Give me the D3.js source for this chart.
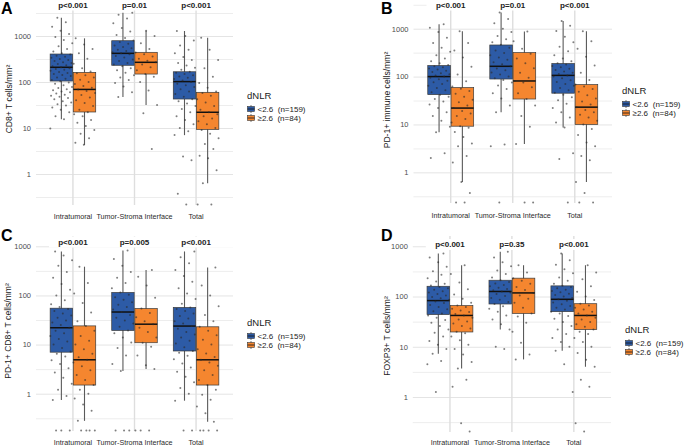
<!DOCTYPE html>
<html><head><meta charset="utf-8">
<script src="https://cdn.jsdelivr.net/npm/d3@7"></script>
<style>body{margin:0;background:#fff}svg{display:block;font-family:"Liberation Sans",Arial,sans-serif}</style>
</head><body><svg id="c" width="684" height="446"></svg>
<script>
// ---------------- DATA ----------------
const categories = ["Intratumoral", "Tumor-Stroma Interface", "Total"];
const groups = ["lo", "hi"];
const groupLabels = ["<2.6  (n=159)", "\u22652.6  (n=84)"];
const legendTitle = "dNLR";
const yTickValues = [1, 10, 100, 1000];
const yTickLabels = ["1", "10", "100", "1000"];
const yMinorValues = [0.3162, 3.162, 31.62, 316.2, 3162];
const panelLetters = ["A", "B", "C", "D"];
const yTitles = ["CD8+ T cells/mm\u00b2", "PD-1+ immune cells/mm\u00b2", "PD-1+ CD8+ T cells/mm\u00b2", "FOXP3+ T cells/mm\u00b2"];
const pValsA = ["p<0.001", "p=0.01", "p<0.001"];
const pValsB = ["p<0.001", "p=0.01", "p<0.001"];
const pValsC = ["p<0.001", "p=0.005", "p<0.001"];
const pValsD = ["p<0.001", "p=0.35", "p<0.001"];

// box statistics, order: Intra <2.6, Intra >=2.6, TSI <2.6, TSI >=2.6, Total <2.6, Total >=2.6
const A_wlo = [15.5, 4.3, 47, 31.6, 7.0, 0.63];
const A_q1  = [105, 22.3, 231, 149, 42.7, 9.3];
const A_med = [209, 69, 420, 268, 102, 22];
const A_q3  = [406, 162, 790, 442, 167, 59.7];
const A_whi = [2500, 890, 3200, 1300, 1285, 918];

const B_wlo = [6.9, 0.63, 18, 3.9, 8.6, 0.63];
const B_q1  = [42, 9.2, 89, 34, 45, 10];
const B_med = [100, 22, 164, 81, 106, 23];
const B_q3  = [170, 59, 457, 317, 187, 68];
const B_whi = [1235, 883, 2170, 870, 1450, 883];

const C_wlo = [0.74, 0.28, 2.9, 3.2, 0.72, 0.27];
const C_q1  = [7.0, 1.5, 19.4, 10.9, 7.4, 1.5];
const C_med = [22, 4.9, 46, 26, 23.8, 4.9];
const C_q3  = [55, 24, 115, 54, 57, 23];
const C_whi = [787, 385, 826, 329, 787, 372];

const D_wlo = [7.3, 3.7, 22, 5.6, 8.3, 4.0];
const D_q1  = [43.8, 19.7, 71, 46, 50, 22];
const D_med = [83, 42, 126, 118, 88, 42];
const D_q3  = [160, 66, 211, 232, 163, 72];
const D_whi = [719, 420, 775, 420, 719, 420];

// individual observations (0 = no cells, drawn at panel floor)
const A_intra_lo = [9.8,15.5,18,22,25,28,31,33,36,38,42,45,48,50,53,56,60,62,66,70,74,78,85,92,98,104,110,118,126,135,142,150,158,166,175,184,192,200,210,220,232,245,258,270,285,300,318,335,352,372,395,420,460,520,600,700,820,950,1100,1300,1600,2000,2500];
const A_intra_hi = [4.3,4.8,6,7.5,9,11,13,15,18,20,22,25,30,35,40,46,52,58,64,69,75,82,90,100,112,125,140,155,170,200,250,320,420,520,650,890];
const A_tsi_lo = [47,60,80,95,110,125,140,160,180,200,220,240,260,285,310,340,370,400,420,445,470,500,540,580,620,680,740,800,900,1050,1250,1500,1900,2400,2900,3200];
const A_tsi_hi = [3.5,20.9,31.6,65,100,130,150,180,210,240,268,290,320,360,400,440,520,700,1000,1300];
const A_tot_lo = [0,0.37,2.0,2.4,7.05,8.5,10,12,15,18,22,26,30,34,38,42,48,55,62,70,78,85,92,100,108,116,124,132,140,150,160,168,185,205,230,260,300,350,420,500,620,800,1000,1285];
const A_tot_hi = [0,0,0.63,1.2,2.2,2.5,3.5,4.5,6,7.5,9,10,12,14,16,18,20,22,25,30,36,42,50,58,62,75,95,130,200,300,500,918];

const B_intra_lo = [2.0,2.5,6.9,9,12,15,18,22,26,30,34,38,42,47,52,58,64,70,76,82,88,94,100,106,112,118,125,132,140,148,156,165,175,190,210,240,280,330,400,500,650,850,1050,1235];
const B_intra_hi = [0,0,0.37,0.63,1.6,2.2,3.5,4,5.5,7,8.5,9.2,11,13,15,17,19,22,25,29,33,38,44,50,56,62,80,110,160,250,350,500,883];
const B_tsi_lo = [0,3.5,3.8,18,25,35,45,55,65,75,85,92,100,110,122,135,148,164,180,200,225,250,280,310,350,400,460,520,600,700,850,1000,1300,1600,2170];
const B_tsi_hi = [0,0,3.9,9,15,25,34,45,60,75,81,95,120,150,190,240,300,380,550,870];
const B_tot_lo = [0,1.9,2.5,8.6,11,14,18,22,27,32,37,42,46,52,58,64,70,77,84,92,100,106,113,120,128,137,146,156,166,178,190,210,240,280,340,420,520,680,900,1150,1450];
const B_tot_hi = [0,0,0.37,0.63,1.8,2.2,3.5,4.2,6,8,10,12,14,16,18,20,23,26,30,35,41,48,55,62,68,85,120,170,260,380,550,883];

const C_intra_lo = [0,0,0,0.74,0.9,1.2,1.6,2.1,2.7,3.3,4,4.8,5.7,6.5,7.2,8.5,10,11.5,13,15,17,19,22,25,28,31,35,39,43,48,53,58,66,80,100,130,170,230,300,400,520,650,787];
const C_intra_hi = [0,0,0,0,0.28,0.45,0.6,0.8,1.0,1.2,1.5,1.9,2.4,3,3.6,4.3,4.9,5.5,6.5,8,10,12,15,19,24,30,45,70,110,180,385];
const C_tsi_lo = [0,0,0,2.9,4,6,8.5,11,14,17,19.4,23,27,31,35,40,46,52,58,65,73,82,92,103,115,140,180,230,300,400,550,826];
const C_tsi_hi = [0,0,0,3.2,3.8,6,9,10.9,14,18,22,26,30,36,44,54,90,160,240,329];
const C_tot_lo = [0,0,0.72,1.0,1.3,1.7,2.2,2.8,3.4,4.1,5,5.9,6.8,7.4,8.8,10.5,12,14,16,18,21,23.8,27,30,34,38,43,48,53,57,68,85,110,140,190,250,330,450,600,787];
const C_tot_hi = [0,0,0,0,0.27,0.4,0.55,0.75,0.95,1.2,1.5,1.9,2.4,3,3.7,4.3,4.9,5.6,6.6,8,10,12.5,15.5,19,23,30,40,60,100,160,372];

const D_intra_lo = [1.26,4.5,5.2,7.3,9,11,13,16,19,22,26,30,34,38,42,46,51,56,62,68,74,80,86,92,98,105,112,120,128,137,146,155,165,180,200,230,270,320,390,480,600,719];
const D_intra_hi = [0,0.3,1.6,2.2,3.7,5,7,9,11,13.5,16,18.5,20,23,26,29,32,35,38,42,45,49,53,57,62,66,75,90,110,140,190,280,420];
const D_tsi_lo = [9,10,22,28,35,42,50,57,64,71,78,86,94,103,112,120,126,133,141,150,160,170,182,195,211,240,280,330,400,480,600,775];
const D_tsi_hi = [5.6,7,12,20,30,40,46,60,75,90,105,118,135,155,180,205,232,300,420];
const D_tot_lo = [1.26,4.5,8.3,10,12.5,15,18,22,26,31,36,41,46,50,55,60,65,70,76,82,88,94,100,107,114,121,129,137,146,155,163,180,205,240,290,350,430,530,719];
const D_tot_hi = [0,0.3,1.6,2.2,4.0,5.5,7.5,10,12.5,15,18,20,22,25,28,31,35,38,42,46,50,55,60,66,72,85,100,125,160,220,300,420];

// ---------------- LAYOUT ----------------
const colors = {lo: "#2d5ba6", hi: "#f5862f"};
const FONT = "Liberation Sans, Arial, sans-serif";
const panels = [
  {letter: panelLetters[0], title: yTitles[0], p: pValsA, stats: [A_wlo,A_q1,A_med,A_q3,A_whi],
   pts: [[A_intra_lo,A_intra_hi],[A_tsi_lo,A_tsi_hi],[A_tot_lo,A_tot_hi]],
   left: 36, right: 233, top: 4, bottom: 205, lo: 0.212, hi: 4966,
   titleX: 9, titleY: 99, pY: 7.5, letterX: 1, letterY: 14, legX: 247, legY: 99, xLabY: 218.6},
  {letter: panelLetters[1], title: yTitles[1], p: pValsB, stats: [B_wlo,B_q1,B_med,B_q3,B_whi],
   pts: [[B_intra_lo,B_intra_hi],[B_tsi_lo,B_tsi_hi],[B_tot_lo,B_tot_hi]],
   left: 413.5, right: 612, top: 4, bottom: 203, lo: 0.229, hi: 3281,
   titleX: 387, titleY: 100, pY: 7.5, letterX: 381, letterY: 14, legX: 622, legY: 94, xLabY: 217.6},
  {letter: panelLetters[2], title: yTitles[2], p: pValsC, stats: [C_wlo,C_q1,C_med,C_q3,C_whi],
   pts: [[C_intra_lo,C_intra_hi],[C_tsi_lo,C_tsi_hi],[C_tot_lo,C_tot_hi]],
   left: 36, right: 233, top: 236, bottom: 431, lo: 0.174, hi: 1622,
   titleX: 8, titleY: 331, pY: 244.5, letterX: 1, letterY: 241, legX: 247, legY: 326, xLabY: 444.6},
  {letter: panelLetters[3], title: yTitles[3], p: pValsD, stats: [D_wlo,D_q1,D_med,D_q3,D_whi],
   pts: [[D_intra_lo,D_intra_hi],[D_tsi_lo,D_tsi_hi],[D_tot_lo,D_tot_hi]],
   left: 412.8, right: 611, top: 236, bottom: 432, lo: 0.201, hi: 1603,
   titleX: 387, titleY: 336, pY: 247, letterX: 381, letterY: 241, legX: 625, legY: 333, xLabY: 445.2}
];

const svg = d3.select("#c");

panels.forEach((P, pi) => {
  const g = svg.append("g");
  const x = d3.scaleBand().domain(categories).range([P.left, P.right]).paddingInner(0).paddingOuter(0.1);
  const step = x.step();
  const xi = d3.scaleBand().domain(groups).range([0.13 * step, 0.87 * step]).paddingInner(0.03);
  const y = d3.scaleLog().domain([P.lo, P.hi]).range([P.bottom, P.top]);
  const yv = v => v > 0 ? y(v) : P.bottom - 0.5;

  // minor grid
  const minor = g.append("g").attr("transform", `translate(${P.left},0)`)
    .call(d3.axisLeft(y).tickValues(yMinorValues.filter(v => v > P.lo && v < P.hi)).tickFormat("").tickSize(-(P.right - P.left)));
  minor.select(".domain").remove();
  minor.selectAll("line").attr("stroke", "#ebebeb").attr("stroke-width", 0.9);
  // major grid + labels
  const major = g.append("g").attr("transform", `translate(${P.left},0)`)
    .call(d3.axisLeft(y).tickValues(yTickValues).tickFormat((d, i) => yTickLabels[i]).tickSize(-(P.right - P.left)).tickPadding(5));
  major.select(".domain").remove();
  major.selectAll("line").attr("stroke", "#e4e4e4").attr("stroke-width", 1);
  major.selectAll("text").attr("fill", "#4d4d4d").style("font-size", "7.5px").style("font-family", FONT);
  // vertical grid + category labels
  const xa = g.append("g").attr("transform", `translate(0,${P.bottom})`)
    .call(d3.axisBottom(x).tickSize(-(P.bottom - P.top)).tickPadding(8));
  xa.select(".domain").remove();
  xa.selectAll("line").attr("stroke", "#dedede").attr("stroke-width", 1.4);
  xa.selectAll("text").attr("fill", "#2a2a2a").style("font-size", "7.2px").style("font-family", FONT)
    .attr("dy", null).attr("y", P.xLabY - P.bottom);

  // white band behind p-values
  g.append("rect").attr("x", P.left + 13).attr("y", P.pY - 8).attr("width", P.right - P.left - 13).attr("height", 11).attr("fill", "#fff");

  // boxes
  const [wlo, q1, med, q3, whi] = P.stats;
  categories.forEach((cat, ci) => {
    groups.forEach((grp, gi) => {
      const k = ci * 2 + gi;
      const x0 = x(cat) + xi(grp);
      const bw = xi.bandwidth();
      const cx = x0 + bw / 2;
      g.append("line").attr("x1", cx).attr("x2", cx).attr("y1", y(wlo[k])).attr("y2", y(whi[k]))
        .attr("stroke", "#5a5a5a").attr("stroke-width", 1.1);
      g.append("rect").attr("x", x0).attr("width", bw).attr("y", y(q3[k])).attr("height", y(q1[k]) - y(q3[k]))
        .attr("fill", colors[grp]).attr("stroke", "#3a3a3a").attr("stroke-width", 0.7);
      g.append("line").attr("x1", x0).attr("x2", x0 + bw).attr("y1", y(med[k])).attr("y2", y(med[k]))
        .attr("stroke", "#111").attr("stroke-width", 1.5);
    });
  });

  // jittered points
  categories.forEach((cat, ci) => {
    groups.forEach((grp, gi) => {
      const vals = P.pts[ci][gi];
      const cx = x(cat) + xi(grp) + xi.bandwidth() / 2;
      const jw = 0.36 * step;
      g.selectAll(null).data(vals).enter().append("circle")
        .attr("cx", (d, i) => cx + (((i * 0.6180339887 + ci * 0.29 + gi * 0.47 + pi * 0.13) % 1) - 0.5) * jw)
        .attr("cy", d => yv(d))
        .attr("r", 1.0)
        .attr("fill", "#2a2a2a").attr("fill-opacity", 0.6);
    });
  });

  // p-values
  g.selectAll(null).data(P.p).enter().append("text")
    .attr("x", (d, i) => x(categories[i]) + step / 2).attr("y", P.pY)
    .attr("text-anchor", "middle").style("font-size", "8px").style("font-weight", "bold").attr("fill", "#222")
    .text(d => d);

  // panel letter
  g.append("text").attr("x", P.letterX).attr("y", P.letterY).style("font-size", "16px").style("font-weight", "bold")
    .attr("fill", "#000").text(P.letter);

  // y title
  g.append("text").attr("transform", `translate(${P.titleX + 3},${P.titleY}) rotate(-90)`)
    .attr("text-anchor", "middle").style("font-size", "8.6px").attr("fill", "#1a1a1a").text(P.title);

  // legend
  const lg = g.append("g").attr("transform", `translate(${P.legX},${P.legY})`);
  lg.append("text").attr("x", 0).attr("y", 0).style("font-size", "9.5px").attr("fill", "#1a1a1a").text(legendTitle);
  groups.forEach((grp, gi) => {
    const ky = 7 + gi * 9;
    lg.append("line").attr("x1", 4).attr("x2", 4).attr("y1", ky - 1).attr("y2", ky + 7).attr("stroke", "#555").attr("stroke-width", 0.8);
    lg.append("rect").attr("x", 0.5).attr("y", ky + 0.5).attr("width", 7).attr("height", 5)
      .attr("fill", colors[grp]).attr("stroke", "#3a3a3a").attr("stroke-width", 0.6);
    lg.append("line").attr("x1", 0.5).attr("x2", 7.5).attr("y1", ky + 3).attr("y2", ky + 3).attr("stroke", "#111").attr("stroke-width", 0.8);
    lg.append("text").attr("x", 10.5).attr("y", ky + 5.8).style("font-size", "8px").style("white-space", "pre")
      .attr("fill", "#1a1a1a").text(groupLabels[gi]);
  });
});
</script></body></html>
